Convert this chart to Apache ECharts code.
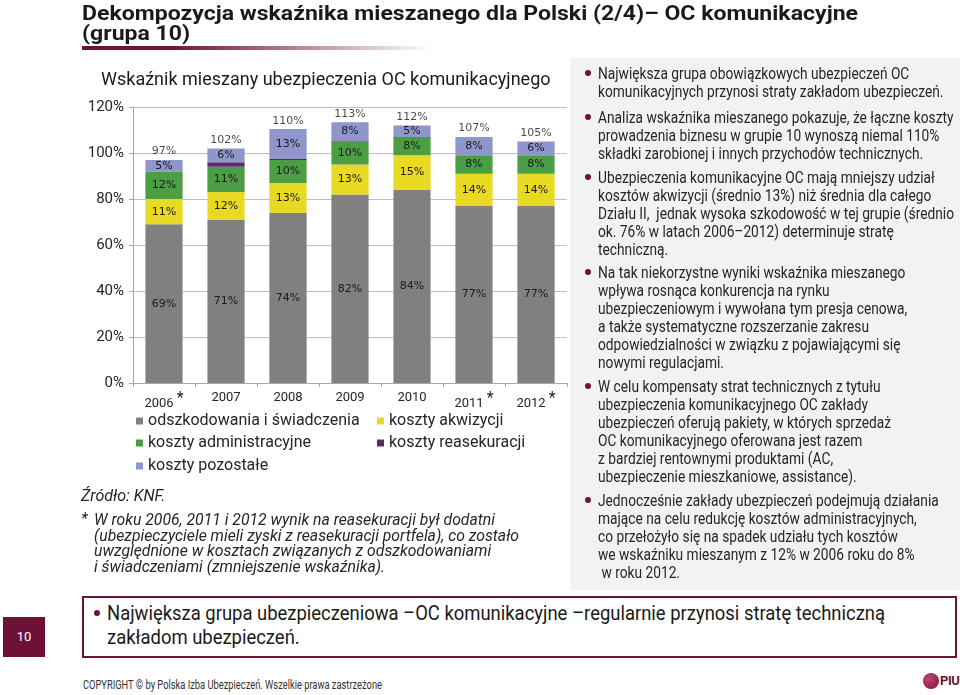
<!DOCTYPE html>
<html><head><meta charset="utf-8">
<script src="https://cdn.jsdelivr.net/npm/echarts/dist/echarts.min.js"></script>
<style>
html,body{margin:0;padding:0;background:#fff;width:960px;height:695px;overflow:hidden;font-family:Roboto,"Noto Sans",sans-serif;color:#262626;}
.abs{position:absolute;}
.nw{white-space:nowrap;}
.line{display:block;white-space:nowrap;}
.sc{transform-origin:0 0;}
.dot{position:absolute;width:6px;height:6px;border-radius:50%;background:#6d1137;}
#chart{position:absolute;left:0;top:0;width:960px;height:695px;z-index:2;}
</style></head>
<body>
<!-- slide title -->
<div id="title" class="abs sc" style="left:82px;top:3px;font-weight:bold;font-size:21px;line-height:20px;color:#1a1a1a;z-index:3">
  <span class="line">Dekompozycja wskaźnika mieszanego dla Polski (2/4)– OC komunikacyjne</span>
  <span class="line">(grupa 10)</span>
</div>
<div class="abs" style="left:82px;top:46px;width:350px;height:4px;background:linear-gradient(to right,#6d1137 0%,#6d1137 25%,rgba(109,17,55,0.6) 55%,rgba(255,255,255,0) 100%)"></div>

<!-- right panel -->
<div class="abs" style="left:570px;top:58px;width:390px;height:532px;background:#f2f2f2;z-index:1"></div>
<div class="dot" style="left:585px;top:70px;z-index:3"></div>
<div class="dot" style="left:585px;top:114px;z-index:3"></div>
<div class="dot" style="left:585px;top:174px;z-index:3"></div>
<div class="dot" style="left:585px;top:269px;z-index:3"></div>
<div class="dot" style="left:585px;top:383px;z-index:3"></div>
<div class="dot" style="left:585px;top:497px;z-index:3"></div>
<div id="rp" class="abs sc" style="left:598px;top:0;font-size:17px;line-height:18px;z-index:3">
  <div class="abs" style="left:0;top:64px"><span class="line">Największa grupa obowiązkowych ubezpieczeń OC</span><span class="line">komunikacyjnych przynosi straty zakładom ubezpieczeń.</span></div>
  <div class="abs" style="left:0;top:108px"><span class="line">Analiza wskaźnika mieszanego pokazuje, że łączne koszty</span><span class="line">prowadzenia biznesu w grupie 10 wynoszą niemal 110%</span><span class="line">składki zarobionej i innych przychodów technicznych.</span></div>
  <div class="abs" style="left:0;top:168px"><span class="line">Ubezpieczenia komunikacyjne OC mają mniejszy udział</span><span class="line">kosztów akwizycji (średnio 13%) niż średnia dla całego</span><span class="line">Działu II,&nbsp; jednak wysoka szkodowość w tej grupie (średnio</span><span class="line">ok. 76% w latach 2006–2012) determinuje stratę</span><span class="line">techniczną.</span></div>
  <div class="abs" style="left:0;top:263px"><span class="line">Na tak niekorzystne wyniki wskaźnika mieszanego</span><span class="line">wpływa rosnąca konkurencja na rynku</span><span class="line">ubezpieczeniowym i wywołana tym presja cenowa,</span><span class="line">a także systematyczne rozszerzanie zakresu</span><span class="line">odpowiedzialności w związku z pojawiającymi się</span><span class="line">nowymi regulacjami.</span></div>
  <div class="abs" style="left:0;top:377px"><span class="line">W celu kompensaty strat technicznych z tytułu</span><span class="line">ubezpieczenia komunikacyjnego OC zakłady</span><span class="line">ubezpieczeń oferują pakiety, w których sprzedaż</span><span class="line">OC komunikacyjnego oferowana jest razem</span><span class="line">z bardziej rentownymi produktami (AC,</span><span class="line">ubezpieczenie mieszkaniowe, assistance).</span></div>
  <div class="abs" style="left:0;top:491px"><span class="line">Jednocześnie zakłady ubezpieczeń podejmują działania</span><span class="line">mające na celu redukcję kosztów administracyjnych,</span><span class="line">co przełożyło się na spadek udziału tych kosztów</span><span class="line">we wskaźniku mieszanym z 12% w 2006 roku do 8%</span><span class="line">&nbsp;w roku 2012.</span></div>
</div>

<!-- source and footnote -->
<div class="abs nw" style="left:81px;top:487px;font-style:italic;font-size:16px;line-height:18px;z-index:3">Źródło: KNF.</div>
<div class="abs nw" style="left:81px;top:511px;font-style:italic;font-size:16px;line-height:16px;z-index:3">*</div>
<div id="fn" class="abs sc" style="left:94px;top:512px;font-style:italic;font-size:16px;line-height:15.7px;z-index:3">
  <span class="line">W roku 2006, 2011 i 2012 wynik na reasekuracji był dodatni</span>
  <span class="line">(ubezpieczyciele mieli zyski z reasekuracji portfela), co zostało</span>
  <span class="line">uwzględnione w kosztach związanych z odszkodowaniami</span>
  <span class="line">i świadczeniami (zmniejszenie wskaźnika).</span>
</div>

<!-- bottom box -->
<div class="abs" style="left:3px;top:617px;width:42px;height:40px;background:#6d1137;color:#fff;font-size:13px;line-height:40px;text-align:center">10</div>
<div class="abs" style="left:82px;top:596px;width:871px;height:58px;border:2px solid #6d1137;"></div>
<div class="dot" style="left:94px;top:610px;width:6px;height:6px"></div>
<div id="bb" class="abs sc" style="left:107px;top:601px;font-size:20px;line-height:24px;color:#1a1a1a">
  <span class="line">Największa grupa ubezpieczeniowa –OC komunikacyjne –regularnie przynosi stratę techniczną</span>
  <span class="line">zakładom ubezpieczeń.</span>
</div>

<!-- footer -->
<div id="ft" class="abs sc" style="left:83px;top:678px;font-size:12px;line-height:14px;color:#333"><span class="line">COPYRIGHT © by Polska Izba Ubezpieczeń. Wszelkie prawa zastrzeżone</span></div>
<div class="abs" style="left:923px;top:673px;width:16px;height:16px;border-radius:50%;background:radial-gradient(circle at 35% 35%,#c0476e,#7a1238)"></div>
<div class="abs nw" style="left:940px;top:673px;font-size:13px;line-height:16px;font-weight:bold;color:#6d1137;letter-spacing:-0.5px">PIU</div>

<div id="chart"></div>
<script>
// ---- data ----
const years = ['2006', '2007', '2008', '2009', '2010', '2011', '2012'];
const starredYears = ['2006', '2011', '2012'];
const claims = [69, 71, 74, 82, 84, 77, 77];          // odszkodowania i świadczenia
const acquisition = [11, 12, 13, 13, 15, 14, 14];     // koszty akwizycji
const administration = [12, 11, 10, 10, 8, 8, 8];     // koszty administracyjne
const reinsurance = [0, 2, 0.4, 0.4, 0, 0, 0];        // koszty reasekuracji
const otherCosts = [5, 6, 13, 8, 5, 8, 6];            // koszty pozostałe
const totals = [97, 102, 110, 113, 112, 107, 105];    // wskaźnik mieszany
const yTicks = [0, 20, 40, 60, 80, 100, 120];

// ---- text fitting (condensed slide font): widest line of a block -> target width ----
function textWidth(el) {
  const r = document.createRange();
  r.selectNodeContents(el);
  return r.getBoundingClientRect().width;
}
function fit(blockId, target) {
  const block = document.getElementById(blockId);
  let w = 0;
  block.querySelectorAll('.line').forEach(function (l) { w = Math.max(w, textWidth(l)); });
  block.style.transform = 'scaleX(' + (target / w) + ')';
}
fit('title', 776);
fit('rp', 356);
fit('fn', 425);
fit('bb', 778);
fit('ft', 299);

// ---- chart ----
const chart = echarts.init(document.getElementById('chart'), null, {renderer: 'canvas'});
const lblFont = {fontFamily: 'DejaVu Sans', fontSize: 11, color: '#1a1a1a'};
const colors = {
  claims: '#808080', acq: '#e8da22', adm: '#4c9e44', re: '#5e2a6c', oth: '#8e96cc'
};
function barSeries(name, data, color, showLabel) {
  return {
    name: name, type: 'bar', stack: 'total', data: data, barWidth: '60%',
    itemStyle: {color: color},
    label: Object.assign({show: showLabel, position: 'inside', formatter: '{c}%'}, lblFont),
    emphasis: {disabled: true}
  };
}
const legendBase = {
  orient: 'horizontal', padding: 0, icon: 'rect', itemWidth: 7, itemHeight: 7,
  textStyle: {fontFamily: 'Roboto', fontSize: 16, color: '#262626'},
  selectedMode: false
};
const option = {
  animation: false,
  title: {
    text: 'Wskaźnik mieszany ubezpieczenia OC komunikacyjnego',
    left: 101, top: 71, padding: 0,
    textStyle: {fontFamily: 'Roboto', fontSize: 18, fontWeight: 'normal', color: '#1a1a1a'}
  },
  grid: {left: 133, top: 107, width: 434, height: 276, containLabel: false},
  legend: [
    Object.assign({}, legendBase, {data: ['odszkodowania i świadczenia'], left: 136, top: 413}),
    Object.assign({}, legendBase, {data: ['koszty akwizycji'], left: 377, top: 413}),
    Object.assign({}, legendBase, {data: ['koszty administracyjne'], left: 136, top: 435}),
    Object.assign({}, legendBase, {data: ['koszty reasekuracji'], left: 377, top: 435}),
    Object.assign({}, legendBase, {data: ['koszty pozostałe'], left: 136, top: 458})
  ],
  xAxis: {
    type: 'category', data: years,
    axisLine: {lineStyle: {color: '#a6a6a6'}},
    axisTick: {show: true, length: 4, lineStyle: {color: '#a6a6a6'}},
    axisLabel: {
      margin: 8, interval: 0, hideOverlap: false,
      formatter: function (v) { return starredYears.indexOf(v) >= 0 ? '{y|' + v + '}{s|*}' : '{y|' + v + '}'; },
      rich: {
        y: {fontFamily: 'Roboto', fontSize: 13, color: '#262626'},
        s: {fontFamily: 'Roboto', fontSize: 16, color: '#262626', padding: [0, 0, 9, 3]}
      }
    }
  },
  yAxis: {
    type: 'value', min: yTicks[0], max: yTicks[yTicks.length - 1], interval: yTicks[1] - yTicks[0],
    axisLine: {show: true, lineStyle: {color: '#a6a6a6'}},
    axisTick: {show: true, length: 4, lineStyle: {color: '#a6a6a6'}},
    splitLine: {lineStyle: {color: '#bfbfbf'}},
    axisLabel: {formatter: '{value}%', fontFamily: 'Roboto', fontSize: 15, color: '#262626', margin: 9}
  },
  series: [
    barSeries('odszkodowania i świadczenia', claims, colors.claims, true),
    barSeries('koszty akwizycji', acquisition, colors.acq, true),
    barSeries('koszty administracyjne', administration, colors.adm, true),
    barSeries('koszty reasekuracji', reinsurance, colors.re, false),
    barSeries('koszty pozostałe', otherCosts, colors.oth, true),
    {
      name: 'suma', type: 'scatter', data: totals, symbolSize: 0,
      label: Object.assign({show: true, position: 'top', distance: 3, formatter: '{c}%'}, lblFont),
      emphasis: {disabled: true}, z: 5
    }
  ]
};
chart.setOption(option);
</script>
</body></html>
